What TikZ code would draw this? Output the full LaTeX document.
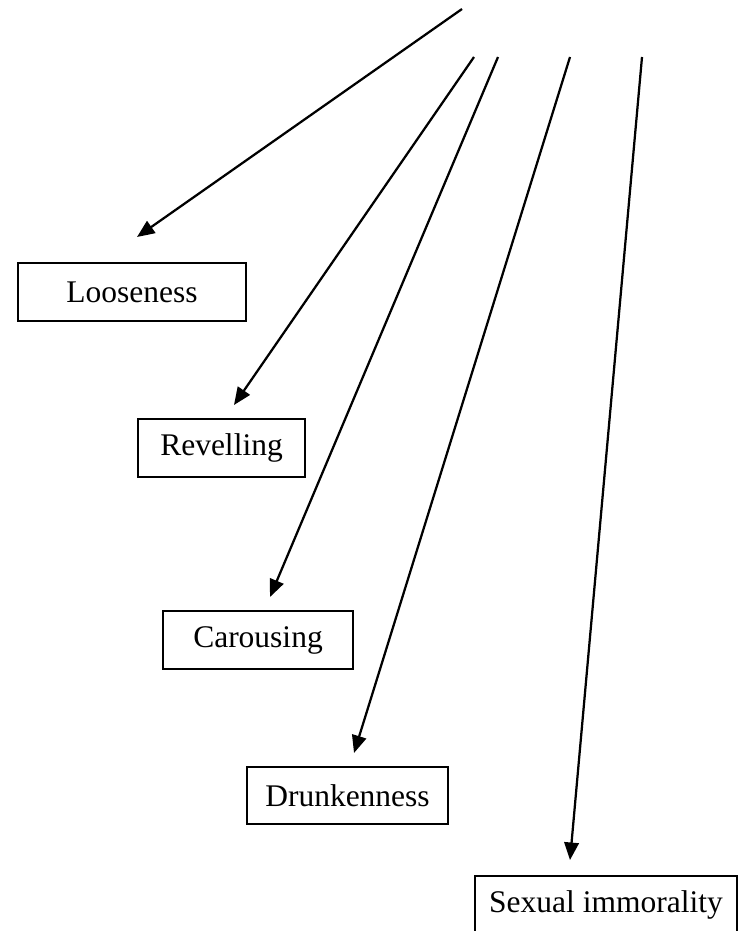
\documentclass[tikz,border=0pt]{standalone}
\usepackage{fontspec}
\setmainfont{Liberation Serif}
\usepackage{tikz}
\usetikzlibrary{arrows.meta}

\begin{document}
\begin{tikzpicture}[x=0.4pt,y=-0.4pt,
    sin/.style={draw,line width=0.9pt,inner sep=0pt,font=\fontsize{12.6}{15}\selectfont},
    pointer/.style={line width=0.9pt,-{Triangle[length=7pt,width=5.8pt]}}]
    \useasboundingbox (0,0) rectangle (742,931);
    \node[sin,minimum width=91.2pt,minimum height=23.2pt] (loose) at (132,292) {Looseness};
    \node[sin,minimum width=66.8pt,minimum height=23.2pt] (revel) at (221.5,448) {Revelling};
    \node[sin,minimum width=76pt,minimum height=23.2pt] (carouse) at (258,640) {Carousing};
    \node[sin,minimum width=80.4pt,minimum height=22.8pt] (drunk) at (347.5,795.5) {Drunkenness};
    \node[sin,minimum width=104.8pt,minimum height=23.2pt] (immoral) at (606,905) {Sexual immorality};
    \coordinate (s1) at (462,9);   \coordinate (t1) at (137,237);
    \coordinate (s2) at (474,57);  \coordinate (t2) at (234,405);
    \coordinate (s3) at (498,57);  \coordinate (t3) at (270,597);
    \coordinate (s4) at (570,57);  \coordinate (t4) at (354,753);
    \coordinate (s5) at (642,57);  \coordinate (t5) at (570,860);
    \draw[pointer] (s1) -- (t1);
    \draw[pointer] (s2) -- (t2);
    \draw[pointer] (s3) -- (t3);
    \draw[pointer] (s4) -- (t4);
    \draw[pointer] (s5) -- (t5);
  \end{tikzpicture}
\end{document}
